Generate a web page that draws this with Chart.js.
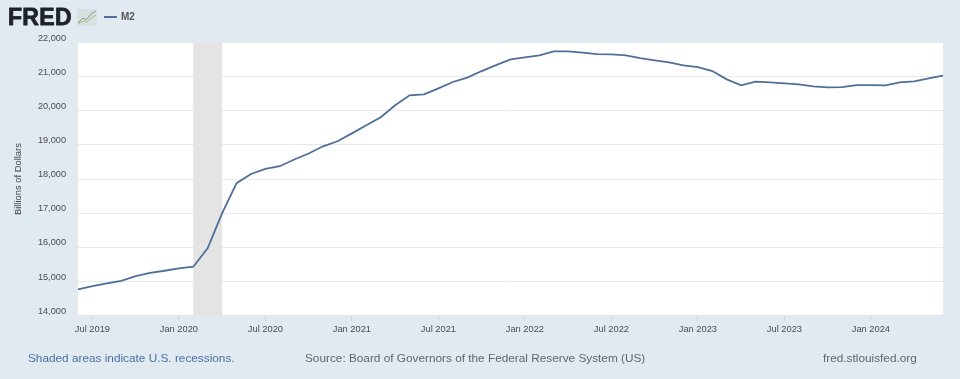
<!DOCTYPE html>
<html>
<head>
<meta charset="utf-8">
<script src="https://cdn.jsdelivr.net/npm/chart.js@4/dist/chart.umd.min.js"></script>
<style>
html,body{margin:0;padding:0;background:#e1e9f1;width:960px;height:379px;overflow:hidden;font-family:"Liberation Sans",Arial,sans-serif}
#wrap{position:relative;width:960px;height:379px}
canvas{position:absolute;left:0;top:0}
.t{position:absolute;white-space:nowrap}
</style>
</head>
<body>
<div id="wrap">
<canvas id="c" width="960" height="379"></canvas>
<div class="t" style="left:8px;top:4px;font-size:23px;line-height:27px;font-weight:bold;letter-spacing:.3px;color:#1f2329;-webkit-text-stroke:.8px #1f2329;">FRED</div>
<svg class="t" style="left:77px;top:9px" width="20" height="17" viewBox="0 0 20 17">
<rect x="0" y="0" width="20" height="17" fill="#d9e0e2"/>
<path d="M1 14 L6 9 L9 11 L14 5 L19 2" fill="none" stroke="#8a9a90" stroke-width="1"/>
<path d="M1 15 L6 12 L10 13 L14 9 L19 6" fill="none" stroke="#a9bf86" stroke-width="1"/>
</svg>
<div class="t" style="left:104px;top:16px;width:13px;height:2px;background:#4f6f98"></div>
<div class="t" style="left:121px;top:11px;font-size:10px;line-height:12px;font-weight:bold;color:#555">M2</div>
<div class="t" style="left:28px;top:351px;font-size:11.8px;line-height:15px;color:#4a72a5">Shaded areas indicate U.S. recessions.</div>
<div class="t" style="left:305px;top:351px;font-size:11.8px;line-height:15px;color:#666">Source: Board of Governors of the Federal Reserve System (US)</div>
<div class="t" style="left:823px;top:351px;font-size:11.8px;line-height:15px;color:#666">fred.stlouisfed.org</div>
</div>
<script>
const months = [
"Jun 2019","Jul 2019","Aug 2019","Sep 2019","Oct 2019","Nov 2019","Dec 2019",
"Jan 2020","Feb 2020","Mar 2020","Apr 2020","May 2020","Jun 2020","Jul 2020","Aug 2020","Sep 2020","Oct 2020","Nov 2020","Dec 2020",
"Jan 2021","Feb 2021","Mar 2021","Apr 2021","May 2021","Jun 2021","Jul 2021","Aug 2021","Sep 2021","Oct 2021","Nov 2021","Dec 2021",
"Jan 2022","Feb 2022","Mar 2022","Apr 2022","May 2022","Jun 2022","Jul 2022","Aug 2022","Sep 2022","Oct 2022","Nov 2022","Dec 2022",
"Jan 2023","Feb 2023","Mar 2023","Apr 2023","May 2023","Jun 2023","Jul 2023","Aug 2023","Sep 2023","Oct 2023","Nov 2023","Dec 2023",
"Jan 2024","Feb 2024","Mar 2024","Apr 2024","May 2024","Jun 2024"];
const m2 = [
14772,14868,14947,15023,15160,15257,15316,
15386,15433,15980,17003,17880,18150,18300,18377,18573,18750,18960,19108,
19340,19578,19810,20161,20453,20480,20658,20843,20971,21164,21339,21506,
21564,21623,21740,21740,21702,21661,21652,21623,21544,21477,21418,21330,
21281,21164,20921,20746,20854,20833,20804,20775,20716,20687,20696,20754,
20754,20746,20833,20862,20950,21029];
const recessionStart = "Feb 2020";
const recessionEnd = "Apr 2020";
const yTicks = [14000,15000,16000,17000,18000,19000,20000,21000,22000];
const xTickMonths = ["Jul 2019","Jan 2020","Jul 2020","Jan 2021","Jul 2021","Jan 2022","Jul 2022","Jan 2023","Jul 2023","Jan 2024"];

const plotBack = {
  id:'plotBack',
  beforeDraw(chart){
    const {ctx,chartArea:a}=chart;
    ctx.save();ctx.fillStyle='#ffffff';
    ctx.fillRect(a.left,a.top,a.right-a.left,a.bottom-a.top);
    ctx.restore();
  },
  beforeDatasetsDraw(chart){
    const {ctx,chartArea:a,scales:{x}}=chart;
    const x0=x.getPixelForValue(months.indexOf(recessionStart));
    const x1=x.getPixelForValue(months.indexOf(recessionEnd));
    ctx.save();ctx.fillStyle='#e4e4e4';
    ctx.fillRect(x0,a.top,x1-x0,a.bottom-a.top);
    ctx.restore();
  }
};

new Chart(document.getElementById('c'),{
  type:'line',
  data:{labels:months,datasets:[{label:'M2',data:m2,borderColor:'#4f6f98',borderWidth:1.8,pointRadius:0,tension:0,fill:false}]},
  plugins:[plotBack],
  options:{
    responsive:false,animation:false,
    layout:{padding:{top:42.5,right:17,left:13,bottom:0}},
    plugins:{legend:{display:false},tooltip:{enabled:false}},
    scales:{
      x:{
        type:'category',offset:false,
        afterBuildTicks(s){s.ticks=s.ticks.filter(t=>xTickMonths.includes(months[t.value]));},
        afterFit(s){s.height=63.3;},
        border:{display:true,color:'#dfe4e8',width:1},
        grid:{drawOnChartArea:false,drawTicks:true,tickLength:5,tickColor:'#ccd6df'},
        ticks:{autoSkip:false,maxRotation:0,minRotation:0,padding:3,color:'#4d4d4d',font:{family:'"Liberation Sans"',size:9.3},
          callback(v){return months[v];}}
      },
      y:{
        min:14000,max:22000,
        afterBuildTicks(s){s.ticks=yTicks.map(v=>({value:v}));},
        afterFit(s){s.width=65;},
        border:{display:false},
        grid:{color:'#e9e9e9',lineWidth:1,drawTicks:false},
        title:{display:true,text:'Billions of Dollars',color:'#444',font:{family:'"Liberation Sans"',size:9.4},padding:{top:0,bottom:0}},
        ticks:{padding:12,labelOffset:-4.5,color:'#4d4d4d',font:{family:'"Liberation Sans"',size:9.2},
          callback(v){return v.toLocaleString('en-US');}}
      }
    }
  }
});
</script>
</body>
</html>
